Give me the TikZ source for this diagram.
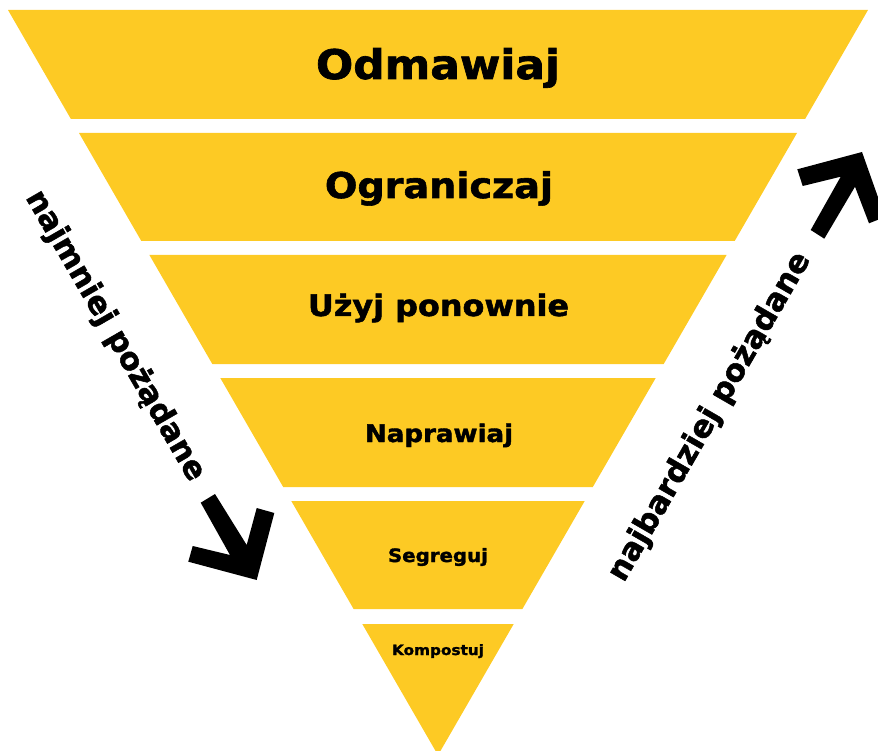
\documentclass[tikz,border=0pt]{standalone}
\usepackage{fontspec}
\setmainfont{DejaVu Sans}
\newfontfamily\heavyfont[FakeBold=1.6]{DejaVu Sans Bold}
\definecolor{bandyellow}{RGB}{253,202,36}
\newcommand{\lvltext}[2]{\resizebox{#1}{!}{\scalebox{1}[0.93]{#2}}}
\begin{document}
\begin{tikzpicture}[x=1pt,y=-1pt,
  band/.style={fill=bandyellow},
  lvl/.style={font=\heavyfont, text=black, inner sep=0pt, anchor=base},
  sidetext/.style={font=\fontsize{31}{31}\selectfont\heavyfont, text=black, inner sep=0pt},
  arrowshape/.style={fill=black}]
\useasboundingbox (0,0) rectangle (878,751);
% bands
\fill[band] (8,10) -- (868,10) -- (805.1,119) -- (70.9,119) -- cycle;
\fill[band] (79.0,133) -- (797.0,133) -- (734.7,241) -- (141.3,241) -- cycle;
\fill[band] (149.4,255) -- (726.6,255) -- (663.7,364) -- (212.3,364) -- cycle;
\fill[band] (220.3,378) -- (655.7,378) -- (592.8,487) -- (283.2,487) -- cycle;
\fill[band] (291.3,501) -- (584.7,501) -- (522.4,609) -- (353.6,609) -- cycle;
\fill[band] (362.3,624) -- (513.7,624) -- (438,755.2) -- cycle;
% labels
\node[lvl] (t1) at (438,79) {\lvltext{244pt}{Odmawiaj}};
\node[lvl] (t2) at (439,198) {\lvltext{228pt}{Ograniczaj}};
\node[lvl] (t3) at (438.5,316) {\lvltext{261pt}{Użyj ponownie}};
\node[lvl] (t4) at (439,442) {\lvltext{148pt}{Naprawiaj}};
\node[lvl] (t5) at (438,562) {\lvltext{100pt}{Segreguj}};
\node[lvl] (t6) at (438,655) {\lvltext{92pt}{Kompostuj}};
% side texts
\node[sidetext, rotate=-60] (left) at (115,336) {najmniej pożądane};
\node[sidetext, rotate=60] (right) at (710,417) {najbardziej pożądane};
% arrows
\fill[arrowshape] (200.7,502.7) -- (215,494) -- (246.7,545) -- (256.7,508) -- (274.3,513) -- (256.7,580) -- (188.3,561.7) -- (192.7,546) -- (230,555) -- cycle;
\fill[arrowshape] (797.3,169.3) -- (862,152) -- (885,217) -- (869,223.3) -- (855,186.7) -- (824.3,238.7) -- (810.7,230) -- (840.7,176.7) -- (802.7,186) -- cycle;
\end{tikzpicture}
\end{document}
